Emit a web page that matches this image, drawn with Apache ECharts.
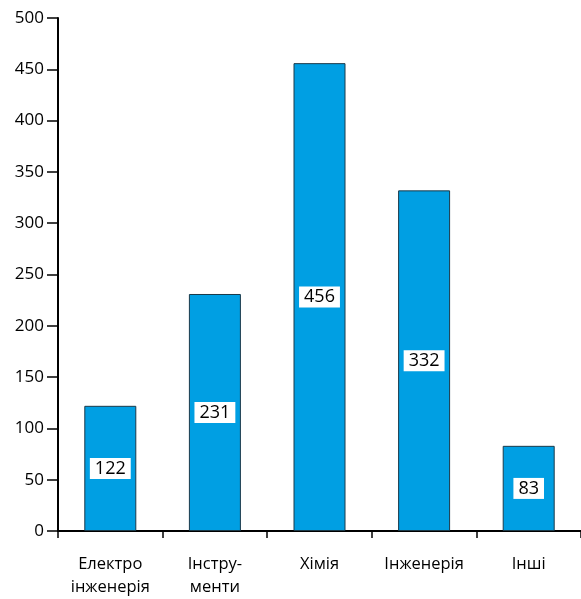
<!DOCTYPE html>
<html><head><meta charset="utf-8">
<script src="https://cdn.jsdelivr.net/npm/echarts@6/dist/echarts.min.js"></script>
<style>html,body{margin:0;padding:0;background:#fff}#c{width:581px;height:599px}</style>
</head><body><div id="c"></div>
<script>
const categories = ['Електро\nінженерія', 'Інстру-\nменти', 'Хімія', 'Інженерія', 'Інші'];
const values = [122, 231, 456, 332, 83];
const yTicks = { min: 0, max: 500, interval: 50 };

const chart = echarts.init(document.getElementById('c'));
const font = '"Open Sans", "Noto Sans", sans-serif';
chart.setOption({
  animation: false,
  grid: { left: 58, top: 18, width: 530, bottom: 67 },
  xAxis: {
    type: 'category', data: categories,
    axisLine: { lineStyle: { color: '#000', width: 2 } },
    axisTick: { show: true, length: 7, interval: 0, lineStyle: { color: '#000', width: 1.5 } },
    axisLabel: { color: '#000', fontFamily: font, fontSize: 16.5, margin: 22, lineHeight: 23,
      interval: 0, hideOverlap: false }
  },
  yAxis: {
    type: 'value', min: yTicks.min, max: yTicks.max, interval: yTicks.interval,
    axisLine: { show: true, lineStyle: { color: '#000', width: 2 } },
    axisTick: { show: true, length: 11, lineStyle: { color: '#000', width: 1.5 } },
    splitLine: { show: false },
    axisLabel: { color: '#000', fontFamily: font, fontSize: 17, margin: 14 }
  },
  series: [{
    type: 'bar', data: values, barWidth: 52,
    itemStyle: { color: '#009fe3', borderColor: '#1a3a4a', borderWidth: 1 },
    label: {
      show: true, position: 'inside', color: '#000', fontFamily: font, fontSize: 18,
      backgroundColor: '#fff', padding: [2, 5, 1, 5]
    }
  }]
});
</script></body></html>
